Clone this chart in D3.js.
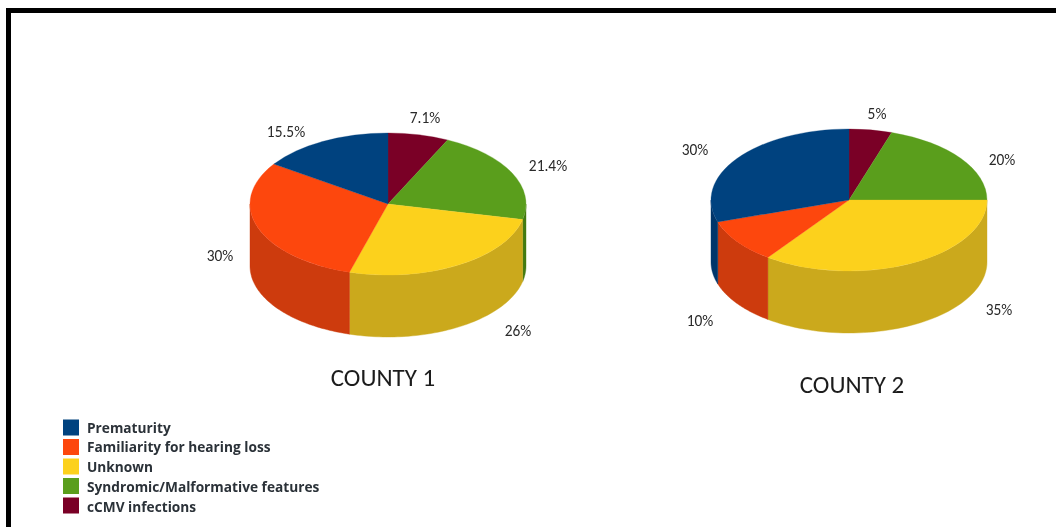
<!DOCTYPE html>
<html><head><meta charset="utf-8">
<script src="https://cdn.jsdelivr.net/npm/d3@7"></script>
<style>html,body{margin:0;padding:0;background:#fff}svg{display:block}</style>
</head><body><svg id="c" width="1056" height="527"></svg>
<script>
const categories = ["cCMV infections","Syndromic/Malformative features","Unknown","Familiarity for hearing loss","Prematurity"];
const legendOrder = ["Prematurity","Familiarity for hearing loss","Unknown","Syndromic/Malformative features","cCMV infections"];
const county1Values = [7.1,21.4,26,30,15.5];
const county2Values = [5,20,35,10,30];
const county1Labels = ["7.1%","21.4%","26%","30%","15.5%"];
const county2Labels = ["5%","20%","35%","10%","30%"];
const topColors = ["#7a0026","#5a9e1e","#fcd11e","#fd460d","#00427f"];
const sideColors = ["#5a001c","#437a12","#cba91c","#cd3a0a","#00356a"];

const color = d3.scaleOrdinal(categories, topColors);
const side = d3.scaleOrdinal(categories, sideColors);
const svg = d3.select("#c");
const defs=svg.append("defs");
defs.append("filter").attr("id","soft").append("feGaussianBlur").attr("stdDeviation",0.45);
svg.append("path").attr("d","M8.5,527V10.5H1056").attr("fill","none").attr("stroke","#000").attr("stroke-width",5);

const rx=138, ry=71, depth=62;
const TAU=2*Math.PI;
const charts=[
 {cx:388,cy:204,values:county1Values,labels:county1Labels,title:"COUNTY 1",tx:383,ty:386,
  lp:[[425,123],[548,171],[518,336],[220,261],[286,137]]},
 {cx:849,cy:200,values:county2Values,labels:county2Labels,title:"COUNTY 2",tx:852,ty:393,
  lp:[[877,119],[1002,165],[999,315],[700,326],[695,155]]}
];
const font="Carlito, Lato, 'Open Sans', sans-serif";
const pie=d3.pie().sort(null).value(d=>d.v);
charts.forEach(c=>{
  const g=svg.append("g").attr("filter","url(#soft)");
  const arcs=pie(categories.map((k,i)=>({k,v:c.values[i],label:c.labels[i]})));
  const px=a=>c.cx+rx*Math.sin(a), py=a=>c.cy-ry*Math.cos(a);
  const wall=d3.area().x(a=>px(a)).y0(a=>py(a)).y1(a=>py(a)+depth);
  arcs.forEach(d=>{
    const a0=Math.max(d.startAngle,TAU/4), a1=Math.min(d.endAngle,3*TAU/4);
    if(a1<=a0) return;
    const n=60, pts=d3.range(n+1).map(i=>a0+(a1-a0)*i/n);
    g.append("path").attr("d",wall(pts)).attr("fill",side(d.data.k)).attr("stroke",side(d.data.k)).attr("stroke-width",0.4);
  });
  const top=g.append("g").attr("transform",`translate(${c.cx},${c.cy}) scale(1,${ry/rx})`);
  const arc=d3.arc().innerRadius(0).outerRadius(rx);
  top.selectAll("path").data(arcs).join("path").attr("d",arc)
    .attr("fill",d=>color(d.data.k)).attr("stroke",d=>color(d.data.k)).attr("stroke-width",0.4);
  g.selectAll("text.v").data(arcs).join("text").attr("class","v")
    .attr("x",(d,i)=>c.lp[i][0]).attr("y",(d,i)=>c.lp[i][1])
    .attr("text-anchor","middle")
    .attr("font-family",font).attr("font-size",15.4).attr("fill","#2a2a2a")
    .text(d=>d.data.label);
  g.append("text").attr("x",c.tx).attr("y",c.ty).attr("text-anchor","middle")
    .attr("font-family",font).attr("font-size",25).attr("fill","#1c1c1c").text(c.title);
});
const swatchY=d3.scalePoint().domain(legendOrder).range([427.5,505.5]);
const textY=d3.scalePoint().domain(legendOrder).range([432.5,512]);
const leg=svg.append("g").attr("filter","url(#soft)");
leg.selectAll("rect").data(legendOrder).join("rect").attr("x",63).attr("y",d=>swatchY(d)-8).attr("width",16).attr("height",16).attr("fill",d=>color(d));
leg.selectAll("text").data(legendOrder).join("text").attr("x",87).attr("y",d=>textY(d)).attr("font-family","'Open Sans', sans-serif").attr("font-weight",700)
  .attr("font-size",13.7).attr("fill","#2b3138").text(d=>d);
</script></body></html>
